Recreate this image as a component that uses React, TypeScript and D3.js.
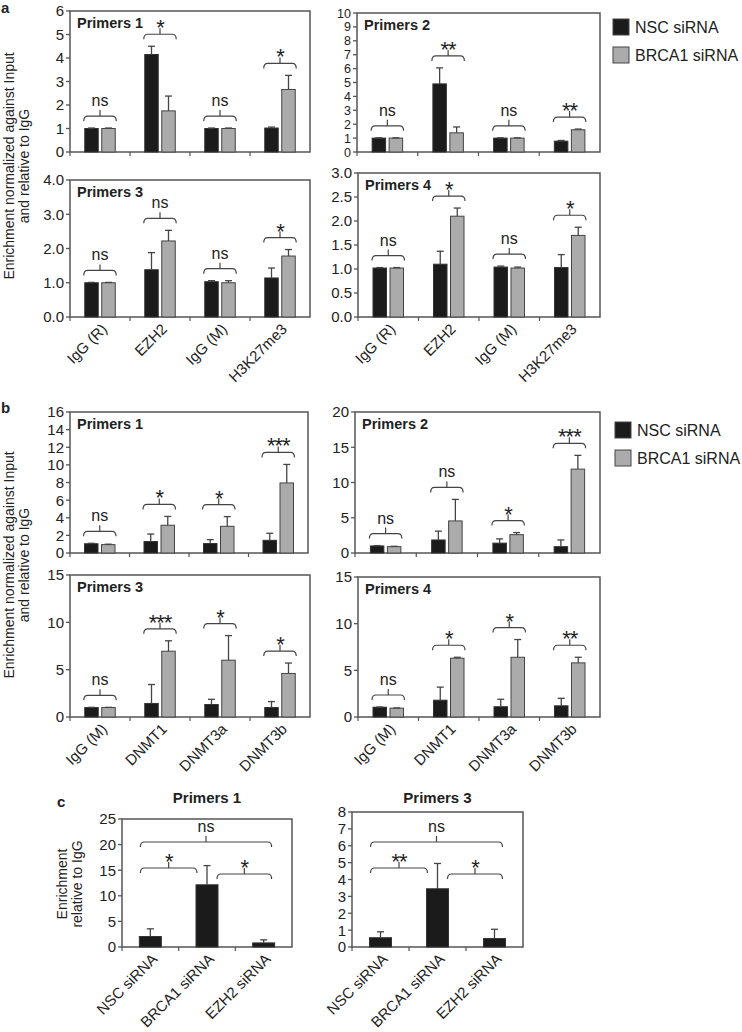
import React from "react";
import * as d3 from "d3";

const FONT = "'Liberation Sans', Arial, Helvetica, sans-serif";
const TXT = "#222";
const FRAME = "#555";
const BLACK = "#1b1b1b";
const GREY = "#ababab";

const seriesNames = ["NSC siRNA", "BRCA1 siRNA"];
const catsA = ["IgG (R)", "EZH2", "IgG (M)", "H3K27me3"];
const catsB = ["IgG (M)", "DNMT1", "DNMT3a", "DNMT3b"];
const catsC = ["NSC siRNA", "BRCA1 siRNA", "EZH2 siRNA"];

// Panel a
const aP1Nsc = [1.0, 4.15, 1.0, 1.02];
const aP1NscErr = [0.02, 0.35, 0.02, 0.04];
const aP1Brca = [1.0, 1.75, 1.0, 2.66];
const aP1BrcaErr = [0.02, 0.63, 0.02, 0.6];
const aP1Sig = ["ns", "*", "ns", "*"];
const aP1Ticks = [0, 1, 2, 3, 4, 5, 6];

const aP2Nsc = [1.0, 4.9, 1.0, 0.78];
const aP2NscErr = [0.02, 1.15, 0.02, 0.05];
const aP2Brca = [1.0, 1.38, 1.0, 1.6];
const aP2BrcaErr = [0.02, 0.42, 0.02, 0.05];
const aP2Sig = ["ns", "**", "ns", "**"];
const aP2Ticks = [0, 1, 2, 3, 4, 5, 6, 7, 8, 9, 10];

const aP3Nsc = [1.0, 1.38, 1.03, 1.14];
const aP3NscErr = [0.01, 0.5, 0.03, 0.29];
const aP3Brca = [1.0, 2.22, 1.0, 1.78];
const aP3BrcaErr = [0.01, 0.31, 0.06, 0.19];
const aP3Sig = ["ns", "ns", "ns", "*"];
const aP3Ticks = [0, 1, 2, 3, 4];

const aP4Nsc = [1.02, 1.1, 1.04, 1.03];
const aP4NscErr = [0.01, 0.27, 0.02, 0.27];
const aP4Brca = [1.02, 2.1, 1.02, 1.7];
const aP4BrcaErr = [0.01, 0.17, 0.02, 0.17];
const aP4Sig = ["ns", "*", "ns", "*"];
const aP4Ticks = [0, 0.5, 1, 1.5, 2, 2.5, 3];

// Panel b
const bP1Nsc = [1.05, 1.3, 1.07, 1.44];
const bP1NscErr = [0.05, 0.85, 0.45, 0.8];
const bP1Brca = [0.95, 3.15, 3.03, 7.95];
const bP1BrcaErr = [0.05, 1.0, 1.1, 2.1];
const bP1Sig = ["ns", "*", "*", "***"];
const bP1Ticks = [0, 2, 4, 6, 8, 10, 12, 14, 16];

const bP2Nsc = [1.0, 1.85, 1.4, 0.9];
const bP2NscErr = [0.05, 1.25, 0.6, 0.95];
const bP2Brca = [0.9, 4.55, 2.6, 11.9];
const bP2BrcaErr = [0.05, 3.05, 0.3, 1.95];
const bP2Sig = ["ns", "ns", "*", "***"];
const bP2Ticks = [0, 5, 10, 15, 20];

const bP3Nsc = [1.0, 1.43, 1.32, 1.0];
const bP3NscErr = [0.02, 2.0, 0.55, 0.63];
const bP3Brca = [1.0, 6.95, 6.0, 4.6];
const bP3BrcaErr = [0.02, 1.1, 2.6, 1.1];
const bP3Sig = ["ns", "***", "*", "*"];
const bP3Ticks = [0, 5, 10, 15];

const bP4Nsc = [1.05, 1.8, 1.1, 1.2];
const bP4NscErr = [0.02, 1.4, 0.8, 0.8];
const bP4Brca = [0.95, 6.3, 6.4, 5.8];
const bP4BrcaErr = [0.02, 0.1, 1.9, 0.6];
const bP4Sig = ["ns", "*", "*", "**"];
const bP4Ticks = [0, 5, 10, 15];

// Panel c
const cPairs = [[0, 1], [1, 2], [0, 2]];
const cP1Vals = [2.05, 12.15, 0.8];
const cP1Err = [1.5, 3.75, 0.6];
const cP1Sig = ["*", "*", "ns"];
const cP1Ticks = [0, 5, 10, 15, 20, 25];

const cP3Vals = [0.55, 3.45, 0.5];
const cP3Err = [0.35, 1.5, 0.55];
const cP3Sig = ["**", "*", "ns"];
const cP3Ticks = [0, 1, 2, 3, 4, 5, 6, 7, 8];

function bracketPath(xl: number, xr: number, y: number) {
  const xm = (xl + xr) / 2;
  return `M${xl},${y + 5} Q${xl},${y} ${xl + 4},${y} L${xr - 4},${y} Q${xr},${y} ${xr},${y + 5} M${xm},${y} L${xm},${y - 6}`;
}

function SigLabel({ x, y, s }: { x: number; y: number; s: string }) {
  if (s === "ns") {
    return (
      <text x={x} y={y - 10} textAnchor="middle" fontSize={16} fill={TXT} fontFamily={FONT}>
        ns
      </text>
    );
  }
  return (
    <text x={x} y={y + 1} textAnchor="middle" fontSize={22} fill={TXT} fontFamily={FONT} letterSpacing={-1}>
      {s}
    </text>
  );
}

function YAxis({ x0, y, ticks, dec, fs }: any) {
  const fmt = dec ? d3.format(".1f") : d3.format("d");
  return (
    <g>
      {ticks.map((t: number) => (
        <g key={t}>
          <line x1={x0 - 4} x2={x0} y1={y(t)} y2={y(t)} stroke={FRAME} strokeWidth={1.3} />
          <text x={x0 - 6} y={y(t)} dy="0.36em" textAnchor="end" fontSize={fs || 15} fill={TXT} fontFamily={FONT}>
            {fmt(t)}
          </text>
        </g>
      ))}
    </g>
  );
}

function ErrBar({ x, yTop, yErr }: { x: number; yTop: number; yErr: number }) {
  return (
    <g stroke="#444" strokeWidth={1.3}>
      <line x1={x} x2={x} y1={yTop} y2={yErr} />
      <line x1={x - 3.5} x2={x + 3.5} y1={yErr} y2={yErr} />
    </g>
  );
}

function GroupPanel(p: any) {
  const { x0, x1, y0, y1, ticks, dec, title, cats, nsc, nscErr, brca, brcaErr, sig, labels, fs } = p;
  const max = ticks[ticks.length - 1];
  const x = d3.scaleBand().domain(cats).range([x0, x1]);
  const y = d3.scaleLinear().domain([0, max]).range([y1, y0]);
  const bw = 13.5;
  const gap = 1.75;
  return (
    <g>
      <rect x={x0} y={y0} width={x1 - x0} height={y1 - y0} fill="none" stroke={FRAME} strokeWidth={1.5} />
      <YAxis x0={x0} y={y} ticks={ticks} dec={dec} fs={fs} />
      {cats.map((c: string, i: number) => {
        const cx = (x(c) as number) + x.bandwidth() / 2;
        const bx = cx - gap - bw;
        const gx = cx + gap;
        const topMax = Math.max(nsc[i] + nscErr[i], brca[i] + brcaErr[i]);
        const by = y(topMax) - 12;
        return (
          <g key={c}>
            <line x1={x(c) as number} x2={x(c) as number} y1={y1} y2={y1 + 4} stroke={FRAME} strokeWidth={1.2} />
            <rect x={bx} y={y(nsc[i])} width={bw} height={y1 - y(nsc[i])} fill={BLACK} stroke="#333" strokeWidth={1} />
            <rect x={gx} y={y(brca[i])} width={bw} height={y1 - y(brca[i])} fill={GREY} stroke="#444" strokeWidth={1} />
            <ErrBar x={bx + bw / 2} yTop={y(nsc[i])} yErr={y(nsc[i] + nscErr[i])} />
            <ErrBar x={gx + bw / 2} yTop={y(brca[i])} yErr={y(brca[i] + brcaErr[i])} />
            <path d={bracketPath(bx - 1, gx + bw + 1, by)} fill="none" stroke="#444" strokeWidth={1.2} />
            <SigLabel x={cx} y={by} s={sig[i]} />
            {labels && (
              <text
                transform={`translate(${cx + 8},${y1 + 13}) rotate(-45)`}
                textAnchor="end"
                fontSize={15}
                fill={TXT}
                fontFamily={FONT}
              >
                {c}
              </text>
            )}
          </g>
        );
      })}
      <text x={x0 + 7} y={y0 + 17} fontSize={14.5} fontWeight="bold" fill={TXT} fontFamily={FONT}>
        {title}
      </text>
    </g>
  );
}

function SinglePanel(p: any) {
  const { x0, x1, y0, y1, ticks, title, cats, vals, err, sig } = p;
  const max = ticks[ticks.length - 1];
  const x = d3.scaleBand().domain(cats).range([x0, x1]);
  const y = d3.scaleLinear().domain([0, max]).range([y1, y0]);
  const bw = 22;
  const cxs = cats.map((c: string) => (x(c) as number) + x.bandwidth() / 2);
  const bracketY = [y1 - 79, y1 - 73, y1 - 105];
  return (
    <g>
      <rect x={x0} y={y0} width={x1 - x0} height={y1 - y0} fill="none" stroke={FRAME} strokeWidth={1.5} />
      <YAxis x0={x0} y={y} ticks={ticks} dec={false} />
      {cats.map((c: string, i: number) => (
        <g key={c}>
          <line x1={x(c) as number} x2={x(c) as number} y1={y1} y2={y1 + 4} stroke={FRAME} strokeWidth={1.2} />
          <rect x={cxs[i] - bw / 2} y={y(vals[i])} width={bw} height={y1 - y(vals[i])} fill={BLACK} stroke="#333" strokeWidth={1} />
          <ErrBar x={cxs[i]} yTop={y(vals[i])} yErr={y(vals[i] + err[i])} />
          <text
            transform={`translate(${cxs[i] + 8},${y1 + 13}) rotate(-45)`}
            textAnchor="end"
            fontSize={15}
            fill={TXT}
            fontFamily={FONT}
          >
            {c}
          </text>
        </g>
      ))}
      {cPairs.map(([a, b], k) => {
        const xl = a === 0 ? cxs[a] - 10 : cxs[a] + 10;
        const xr = b === cats.length - 1 ? cxs[b] + 8 : cxs[b] - 10;
        const by = bracketY[k];
        return (
          <g key={k}>
            <path d={bracketPath(xl, xr, by)} fill="none" stroke="#444" strokeWidth={1.2} />
            <SigLabel x={(xl + xr) / 2} y={by} s={sig[k]} />
          </g>
        );
      })}
      <text x={(x0 + x1) / 2} y={803} textAnchor="middle" fontSize={15} fontWeight="bold" fill={TXT} fontFamily={FONT}>
        {title}
      </text>
    </g>
  );
}

function Legend({ x, y }: { x: number; y: number }) {
  return (
    <g>
      {seriesNames.map((s, i) => (
        <g key={s}>
          <rect x={x} y={y + i * 28} width={16} height={16} fill={i === 0 ? BLACK : GREY} stroke="#444" strokeWidth={1} />
          <text x={x + 22} y={y + i * 28 + 14} fontSize={16} fill={TXT} fontFamily={FONT}>
            {s}
          </text>
        </g>
      ))}
    </g>
  );
}

function YTitle({ x, y, lines, size }: { x: number; y: number; lines: string[]; size: number }) {
  return (
    <g>
      {lines.map((l, i) => (
        <text
          key={i}
          transform={`translate(${x + i * (size + 1)},${y}) rotate(-90)`}
          textAnchor="middle"
          fontSize={size}
          fill={TXT}
          fontFamily={FONT}
        >
          {l}
        </text>
      ))}
    </g>
  );
}

export default function App() {
  return (
    <svg width={742} height={1032} style={{ position: "absolute", left: 0, top: 0, background: "#fff" }}>
      <rect x={0} y={0} width={742} height={1032} fill="#fff" />
      {/* panel letters */}
      <text x={1} y={13} fontSize={15} fontWeight="bold" fill={TXT} fontFamily={FONT}>a</text>
      <text x={1} y={413} fontSize={15} fontWeight="bold" fill={TXT} fontFamily={FONT}>b</text>
      <text x={57} y={807} fontSize={15} fontWeight="bold" fill={TXT} fontFamily={FONT}>c</text>

      {/* Panel a */}
      <YTitle x={14} y={166} lines={["Enrichment normalized against Input", "and relative to IgG"]} size={14} />
      <GroupPanel x0={70} x1={310} y0={11} y1={152} ticks={aP1Ticks} dec={false} title="Primers 1" cats={catsA}
        nsc={aP1Nsc} nscErr={aP1NscErr} brca={aP1Brca} brcaErr={aP1BrcaErr} sig={aP1Sig} labels={false} />
      <GroupPanel x0={357} x1={600} y0={13} y1={152} ticks={aP2Ticks} dec={false} title="Primers 2" cats={catsA}
        nsc={aP2Nsc} nscErr={aP2NscErr} brca={aP2Brca} brcaErr={aP2BrcaErr} sig={aP2Sig} labels={false} fs={12.5} />
      <GroupPanel x0={70} x1={310} y0={180} y1={317} ticks={aP3Ticks} dec={true} title="Primers 3" cats={catsA}
        nsc={aP3Nsc} nscErr={aP3NscErr} brca={aP3Brca} brcaErr={aP3BrcaErr} sig={aP3Sig} labels={true} />
      <GroupPanel x0={358} x1={600} y0={173} y1={317} ticks={aP4Ticks} dec={true} title="Primers 4" cats={catsA}
        nsc={aP4Nsc} nscErr={aP4NscErr} brca={aP4Brca} brcaErr={aP4BrcaErr} sig={aP4Sig} labels={true} />
      <Legend x={613} y={19} />

      {/* Panel b */}
      <YTitle x={14} y={565} lines={["Enrichment normalized against Input", "and relative to IgG"]} size={14} />
      <GroupPanel x0={70} x1={308} y0={412} y1={553} ticks={bP1Ticks} dec={false} title="Primers 1" cats={catsB}
        nsc={bP1Nsc} nscErr={bP1NscErr} brca={bP1Brca} brcaErr={bP1BrcaErr} sig={bP1Sig} labels={false} />
      <GroupPanel x0={355} x1={600} y0={412} y1={553} ticks={bP2Ticks} dec={false} title="Primers 2" cats={catsB}
        nsc={bP2Nsc} nscErr={bP2NscErr} brca={bP2Brca} brcaErr={bP2BrcaErr} sig={bP2Sig} labels={false} />
      <GroupPanel x0={70} x1={310} y0={575} y1={717} ticks={bP3Ticks} dec={false} title="Primers 3" cats={catsB}
        nsc={bP3Nsc} nscErr={bP3NscErr} brca={bP3Brca} brcaErr={bP3BrcaErr} sig={bP3Sig} labels={true} />
      <GroupPanel x0={358} x1={600} y0={577} y1={717} ticks={bP4Ticks} dec={false} title="Primers 4" cats={catsB}
        nsc={bP4Nsc} nscErr={bP4NscErr} brca={bP4Brca} brcaErr={bP4BrcaErr} sig={bP4Sig} labels={true} />
      <Legend x={615} y={422} />

      {/* Panel c */}
      <YTitle x={67} y={884} lines={["Enrichment", "relative to IgG"]} size={14} />
      <SinglePanel x0={122} x1={292} y0={819} y1={947} ticks={cP1Ticks} title="Primers 1" cats={catsC}
        vals={cP1Vals} err={cP1Err} sig={cP1Sig} />
      <SinglePanel x0={352} x1={523} y0={812} y1={947} ticks={cP3Ticks} title="Primers 3" cats={catsC}
        vals={cP3Vals} err={cP3Err} sig={cP3Sig} />
    </svg>
  );
}
